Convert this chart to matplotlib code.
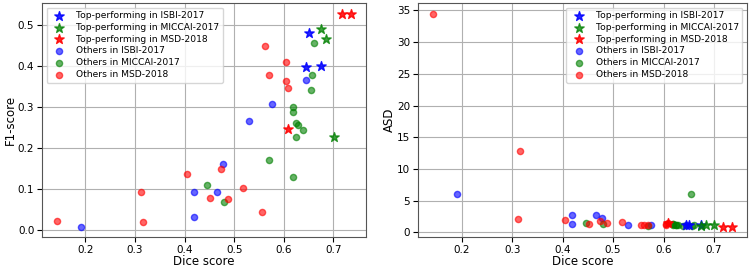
import numpy as np
from matplotlib import pyplot as plt

# top-performing methods (stars)
isbi_top_dice = [0.650, 0.644, 0.674]
isbi_top_f1 = [0.481, 0.396, 0.400]
isbi_top_asd = [1.1, 1.2, 1.1]

miccai_top_dice = [0.675, 0.685, 0.701]
miccai_top_f1 = [0.490, 0.466, 0.227]
miccai_top_asd = [1.0, 1.1, 1.2]

msd_top_dice = [0.718, 0.736, 0.609]
msd_top_f1 = [0.526, 0.527, 0.246]
msd_top_asd = [0.9, 0.9, 1.5]

# other methods (circles)
isbi_dice = [0.644, 0.576, 0.530, 0.477, 0.419, 0.466, 0.419, 0.191]
isbi_f1 = [0.366, 0.306, 0.265, 0.162, 0.092, 0.092, 0.033, 0.009]
isbi_asd = [1.2, 1.2, 1.1, 2.3, 1.3, 2.75, 2.75, 6.1]

miccai_dice = [0.660, 0.656, 0.654, 0.619, 0.619, 0.624, 0.629, 0.639, 0.625, 0.570, 0.619, 0.446, 0.480]
miccai_f1 = [0.455, 0.378, 0.341, 0.300, 0.288, 0.262, 0.256, 0.245, 0.226, 0.171, 0.130, 0.111, 0.069]
miccai_asd = [1.1, 1.0, 6.0, 1.3, 1.2, 1.2, 1.1, 1.0, 1.2, 1.0, 1.3, 1.5, 1.3]

msd_dice = [0.562, 0.605, 0.570, 0.604, 0.608, 0.405, 0.473, 0.517, 0.452, 0.487, 0.556, 0.311, 0.316, 0.142]
msd_f1 = [0.448, 0.410, 0.378, 0.362, 0.347, 0.138, 0.148, 0.102, 0.079, 0.076, 0.044, 0.094, 0.019, 0.022]
msd_asd = [1.1, 1.2, 1.2, 1.3, 1.4, 1.9, 1.8, 1.7, 1.3, 1.4, 1.2, 2.1, 12.8, 34.5]

fig = plt.figure(figsize = (7.5, 2.69), dpi = 100)
ax1 = fig.add_axes([0.056, 0.118, 0.432, 0.871])
ax2 = fig.add_axes([0.557, 0.118, 0.439, 0.871])

for ax, key, ylabel, loc in [(ax1, "f1", "F1-score", "upper left"), (ax2, "asd", "ASD", "upper right")]:
    d = globals()
    ax.scatter(isbi_top_dice, d[f"isbi_top_{key}"], marker = "*", s = 50, c = "blue", alpha = 0.85, label = "Top-performing in ISBI-2017", zorder = 3)
    ax.scatter(miccai_top_dice, d[f"miccai_top_{key}"], marker = "*", s = 50, c = "green", alpha = 0.75, label = "Top-performing in MICCAI-2017", zorder = 3)
    ax.scatter(msd_top_dice, d[f"msd_top_{key}"], marker = "*", s = 50, c = "red", alpha = 0.85, label = "Top-performing in MSD-2018", zorder = 3)
    ax.scatter(isbi_dice, d[f"isbi_{key}"], s = 20, c = "blue", alpha = 0.6, label = "Others in ISBI-2017", zorder = 2)
    ax.scatter(miccai_dice, d[f"miccai_{key}"], s = 20, c = "green", alpha = 0.6, label = "Others in MICCAI-2017", zorder = 2)
    ax.scatter(msd_dice, d[f"msd_{key}"], s = 20, c = "red", alpha = 0.6, label = "Others in MSD-2018", zorder = 2)
    ax.grid(True, color = "#b0b0b0", linewidth = 0.8)
    ax.set_axisbelow(True)
    ax.set_xlabel("Dice score", fontsize = 8.5, labelpad = 0)
    ax.set_ylabel(ylabel, fontsize = 8.5, labelpad = 1)
    ax.tick_params(labelsize = 7.5, pad = 2)
    ax.legend(loc = loc, fontsize = 6.6, handletextpad = 0.8, labelspacing = 0.3, borderpad = 0.4)
    for sp in ax.spines.values():
        sp.set_color("#555555")

ax1.set_xticks([0.2, 0.3, 0.4, 0.5, 0.6, 0.7])
ax2.set_xticks([0.2, 0.3, 0.4, 0.5, 0.6, 0.7])

fig.savefig("out.png", dpi = 100)
